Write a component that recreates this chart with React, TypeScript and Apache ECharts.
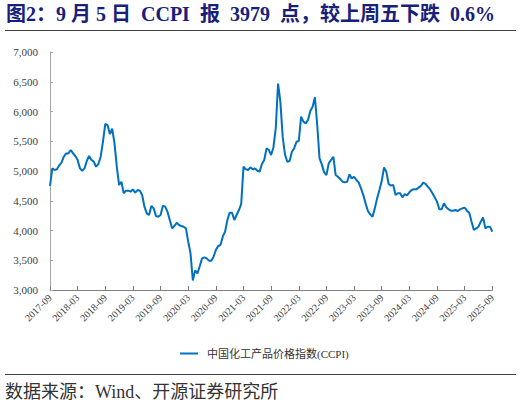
import React, { useEffect, useRef } from "react";
import * as echarts from "echarts";

const titleText = "图2：9 月 5 日  CCPI  报  3979  点，较上周五下跌  0.6%";
const sourceText = "数据来源：Wind、开源证券研究所";
const seriesName = "中国化工产品价格指数(CCPI)";

// semi-monthly observations starting 2017-09
const startYear = 2017;
const startMonth = 9;

const ccpiValues = [
  4750, 5044, 5017, 5028, 5095, 5140, 5240, 5296, 5296, 5352, 5296, 5252,
  5185, 5044, 5005, 5044, 5173, 5252, 5185, 5157, 5072, 5117, 5240, 5493,
  5790, 5770, 5620, 5710, 5465, 5072, 4764, 4820, 4624, 4669, 4669, 4652,
  4691, 4635, 4680, 4669, 4596, 4400, 4288, 4260, 4411, 4372, 4243, 4232,
  4260, 4417, 4400, 4316, 4176, 4036, 4075, 4131, 4092, 4075, 4064, 4036,
  3812, 3616, 3160, 3330, 3280, 3400, 3532, 3549, 3532, 3493, 3493, 3560,
  3672, 3739, 3756, 3896, 3980, 4176, 4300, 4300, 4176, 4260, 4344, 4445,
  5073, 5028, 5017, 5062, 5028, 5045, 5005, 4989, 5118, 5185, 5381, 5353,
  5269, 5400, 5717, 6470, 6165, 5577, 5280, 5156, 5167, 5324, 5380, 5492,
  5504, 5913, 5829, 5801, 5857, 6008, 6081, 6240, 5773, 5212, 5111, 4977,
  4932, 5128, 5184, 5240, 4932, 4904, 4865, 4820, 4809, 4820, 4943, 4876,
  4904, 4848, 4809, 4708, 4596, 4456, 4327, 4271, 4232, 4372, 4540, 4680,
  4831, 5060, 4989, 4782, 4754, 4765, 4597, 4625, 4625, 4557, 4613, 4591,
  4642, 4681, 4692, 4692, 4720, 4748, 4804, 4782, 4737, 4692, 4625, 4557,
  4485, 4356, 4356, 4457, 4389, 4356, 4333, 4333, 4345, 4328, 4356, 4373,
  4384, 4333, 4300, 4148, 4008, 4036, 4064, 4148, 4221, 4036, 4064, 4064,
  3979,
];

const yMin = 3000;
const yMax = 7000;
const yStep = 500;

const categories = ccpiValues.map((_, i) => {
  const m0 = startMonth - 1 + Math.floor(i / 2);
  const y = startYear + Math.floor(m0 / 12);
  const m = (m0 % 12) + 1;
  return `${y}-${String(m).padStart(2, "0")}-${i % 2 === 0 ? "01" : "16"}`;
});

const serif = "'Liberation Serif', 'Times New Roman', 'Noto Sans CJK SC', serif";

export default function App() {
  const ref = useRef<HTMLDivElement>(null);
  useEffect(() => {
    if (!ref.current) return;
    const chart = echarts.init(ref.current, null, { renderer: "svg" });
    const showIdx = (idx: number) => idx % 12 === 0;
    chart.setOption({
      animation: false,
      backgroundColor: "#ffffff",
      grid: { left: 50, right: 28.7, top: 52, height: 238, containLabel: false },
      legend: {
        data: [seriesName],
        left: 175,
        top: 343,
        icon: "rect",
        itemWidth: 18,
        itemHeight: 2,
        textStyle: { fontSize: 11, fontFamily: serif, color: "#333", padding: [0, 0, 0, 4] },
      },
      xAxis: {
        type: "category",
        data: categories,
        boundaryGap: false,
        axisLine: { lineStyle: { color: "#808080", width: 1 } },
        axisTick: { show: true, inside: true, length: 4, interval: showIdx, lineStyle: { color: "#808080" } },
        axisLabel: {
          interval: showIdx,
          rotate: 45,
          margin: 6,
          fontSize: 10,
          fontFamily: serif,
          color: "#404040",
          formatter: (v: string) => v.slice(0, 7),
        },
        splitLine: { show: false },
      },
      yAxis: {
        type: "value",
        min: yMin,
        max: yMax,
        interval: yStep,
        axisLine: { show: true, lineStyle: { color: "#a6a6a6", width: 1 } },
        axisTick: { show: true, inside: true, length: 3, lineStyle: { color: "#a6a6a6" } },
        axisLabel: {
          margin: 12,
          fontSize: 11,
          fontFamily: serif,
          color: "#404040",
          formatter: (v: number) => v.toLocaleString("en-US"),
        },
        splitLine: { show: false },
      },
      series: [
        {
          name: seriesName,
          type: "line",
          data: ccpiValues,
          showSymbol: false,
          symbol: "none",
          lineStyle: { color: "#0070C0", width: 2 },
          itemStyle: { color: "#0070C0" },
        },
      ],
      graphic: [
        {
          type: "text",
          left: 6,
          top: 4,
          style: {
            text: titleText,
            fontSize: 20,
            fontWeight: "bold",
            fontFamily: serif,
            fill: "#17207a",
          },
        },
        {
          type: "line",
          shape: { x1: 5, y1: 30.5, x2: 516, y2: 30.5 },
          style: { stroke: "#404040", lineWidth: 1 },
        },
        {
          type: "line",
          shape: { x1: 5, y1: 374.5, x2: 516, y2: 374.5 },
          style: { stroke: "#404040", lineWidth: 1 },
        },
        {
          type: "text",
          left: 5,
          top: 383,
          style: {
            text: sourceText,
            fontSize: 18,
            fontFamily: serif,
            fill: "#333",
          },
        },
      ],
    });
    return () => chart.dispose();
  }, []);
  return (
    <div
      ref={ref}
      style={{ position: "absolute", left: 0, top: 0, width: 521, height: 404 }}
    />
  );
}
